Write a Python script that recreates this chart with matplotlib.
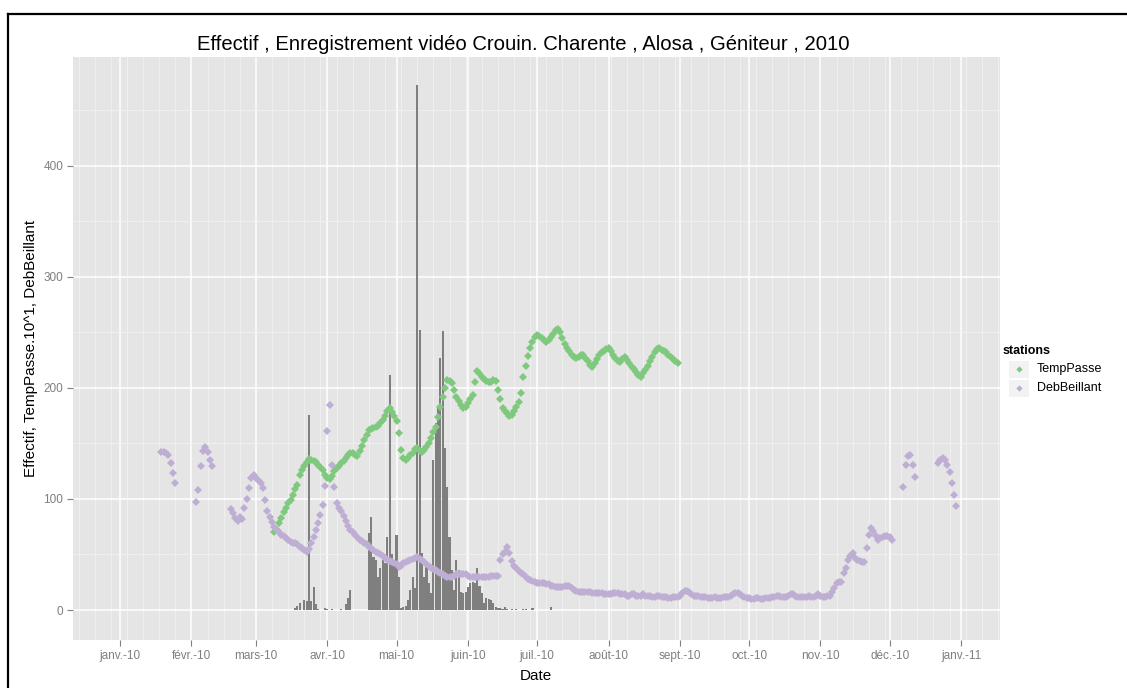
import pandas as pd
import matplotlib
matplotlib.use("Agg")
import matplotlib.pyplot as plt
import matplotlib.dates as mdates
from matplotlib.lines import Line2D
from matplotlib.patches import Rectangle

plt.rcParams['font.family'] = ['Liberation Sans', 'DejaVu Sans']

# ---- data ----
title = "Effectif , Enregistrement vidéo Crouin. Charente , Alosa , Géniteur , 2010"
x_title = "Date"
y_title = "Effectif, TempPasse.10^1, DebBeillant"
legend_title = "stations"
series_names = ["TempPasse", "DebBeillant"]

month_ticks = pd.date_range("2010-01-01", "2011-01-01", freq="MS")
month_labels = ["janv.-10", "févr.-10", "mars-10", "avr.-10", "mai-10", "juin-10",
                "juil.-10", "août-10", "sept.-10", "oct.-10", "nov.-10", "déc.-10",
                "janv.-11"]
y_ticks = [0, 100, 200, 300, 400]

# daily fish count (bars)
effectif_start = "2010-03-18"
effectif = [2, 4, 6, 0, 9, 8, 176, 8, 21, 5, 1, 0, 0, 2, 1, 0, 1, 0, 0, 0,
            1, 0, 5, 11, 18, 0, 0, 0, 0, 0, 0, 0, 69, 84, 48, 45, 30, 38, 45, 42,
            66, 212, 50, 45, 68, 30, 2, 3, 4, 9, 18, 30, 20, 473, 252, 51, 30, 42, 24, 15,
            135, 168, 182, 227, 251, 146, 111, 66, 36, 18, 45, 36, 16, 15, 16, 21, 24, 25, 24, 38,
            22, 15, 6, 11, 10, 9, 6, 3, 2, 2, 1, 3, 1, 0, 1, 0, 1, 0, 0, 1,
            1, 0, 0, 2, 0, 0, 0, 0, 0, 0, 0, 3]

# water temperature x10
temp_start = "2010-03-09"
temp_passe = [70, 72, 78, 83, 88, 92, 96, 99, 104, 109,
              113, 122, 126, 130, 133, 136, 135, 134, 133, 131,
              129, 126, 122, 119, 118, 121, 125, 128, 130, 132,
              134, 137, 140, 141, 141, 140, 139, 143, 148, 153,
              158, 162, 163, 164, 165, 166, 168, 171, 175, 179,
              182, 178, 175, 170, 159, 144, 137, 135, 137, 140,
              141, 145, 146, 143, 142, 144, 147, 150, 155, 160,
              165, 174, 183, 192, 200, 207, 206, 204, 198, 192,
              188, 185, 182, 183, 186, 190, 194, 205, 215, 213,
              210, 208, 206, 205, 205, 207, 206, 198, 190, 182,
              179, 177, 175, 176, 179, 183, 187, 195, 210, 220,
              229, 236, 241, 246, 248, 247, 245, 243, 241, 243,
              246, 249, 252, 253, 250, 245, 240, 236, 233, 230,
              228, 227, 228, 230, 230, 227, 224, 221, 219, 222,
              226, 230, 232, 233, 235, 236, 233, 230, 227, 224,
              223, 226, 228, 225, 222, 219, 217, 214, 212, 210,
              213, 216, 220, 224, 228, 232, 235, 236, 234, 233,
              232, 230, 228, 226, 224, 222]

# river flow, several pieces with gaps between them
deb_jan_start = "2010-01-19"
deb_jan = [142, 142, 141, 140, 132, 123, 114]
deb_feb_start = "2010-02-03"
deb_feb = [97, 108, 130, 143, 147, 142, 135, 130]
deb_main_start = "2010-02-18"
deb_main = [91, 87, 83, 80, 84, 82, 92, 100, 110, 119,
            122, 119, 117, 114, 110, 99, 89, 84, 79, 75,
            72, 70, 68, 67, 65, 63, 61, 60, 60, 59,
            57, 56, 54, 52, 55, 60, 66, 72, 78, 86,
            95, 112, 161, 185, 131, 111, 96, 92, 89, 85,
            80, 76, 72, 70, 68, 66, 63, 62, 60, 59,
            57, 56, 54, 52, 51, 50, 49, 47, 45, 44,
            43, 42, 41, 39, 40, 42, 43, 44, 45, 46,
            47, 48, 46, 45, 43, 41, 40, 38, 37, 36,
            34, 33, 32, 31, 30, 30, 30, 31, 32, 32,
            32, 32, 32, 31, 30, 30, 30, 30, 30, 30,
            30, 30, 30, 31, 31, 31, 31,
            45, 50, 52, 57, 51, 44, 40, 38, 35, 33,
            32, 30, 28, 27, 26, 25, 24, 24, 24, 24,
            23, 23, 22, 22, 21, 21, 21, 21, 22, 22,
            22, 20, 18, 17, 16, 16, 16, 16, 16, 16,
            15, 15, 15, 15, 15, 14, 14, 14, 14, 15,
            15, 15, 14, 14, 14, 13, 13, 14, 14, 13,
            13, 13, 14, 13, 13, 13, 12, 12, 13, 13,
            12, 12, 12, 11, 11, 12, 12, 12, 13, 15,
            17, 17, 16, 14, 13, 13, 13, 12, 12, 12,
            11, 11, 11, 12, 11, 11, 11, 12, 12, 12,
            13, 14, 15, 15, 14, 13, 12, 11, 11, 10,
            10, 11, 11, 10, 10, 11, 11, 11, 12, 12,
            13, 13, 12, 12, 12, 13, 14, 14, 13, 12,
            12, 12, 12, 12, 13, 12, 12, 13, 14, 13,
            12, 12, 13, 13, 16, 20, 24, 25, 25, 33,
            38, 45, 49, 51, 47, 45, 44, 43, 43, 56,
            68, 74, 71, 67, 63, 65, 66, 67, 67, 66,
            63]
deb_dec1_start = "2010-12-07"
deb_dec1 = [111, 131, 139, 140, 131, 120]
deb_dec2_start = "2010-12-22"
deb_dec2 = [132, 135, 137, 135, 131, 124, 114, 104, 94]

green = "#7FC97F"
purple = "#BEAED4"
bar_col = "#7F7F7F"

# ---- figure ----
W, H = 1127, 688
def fx(px):
    return px / W
def fy(py):
    return 1 - py / H

fig = plt.figure(figsize=(W / 100, H / 100), dpi=100)
ax = fig.add_axes([fx(73), fy(640), (1000 - 73) / W, (640 - 57) / H])
ax.set_facecolor("#E5E5E5")
for s in ax.spines.values():
    s.set_visible(False)

jan1 = pd.Timestamp("2010-01-01")
ax.set_xlim(jan1 - pd.Timedelta(days=20.4), jan1 + pd.Timedelta(days=381.9))
ax.set_ylim(-27, 498)

ax.set_xticks(month_ticks)
ax.set_xticklabels(month_labels)
ax.xaxis.set_minor_locator(mdates.WeekdayLocator(byweekday=mdates.MO))
ax.set_yticks(y_ticks)
ax.set_yticklabels([str(v) for v in y_ticks])
ax.set_yticks([50, 150, 250, 350, 450], minor=True)
ax.grid(which="minor", color="#F2F2F2", linewidth=0.6)
ax.grid(which="major", color="white", linewidth=1.1)
ax.set_axisbelow(True)
ax.tick_params(which="minor", length=0)
ax.tick_params(which="major", length=4, width=0.8, color="#7F7F7F",
               labelcolor="#7F7F7F", labelsize=8.5, pad=3)

# bars
d = pd.date_range(effectif_start, periods=len(effectif), freq="D")
ax.bar(d, effectif, width=0.9, color=bar_col, zorder=2)

# points
mk = dict(marker="D", markersize=3.9, linestyle="none", markeredgewidth=0, zorder=3)
ax.plot(pd.date_range(temp_start, periods=len(temp_passe), freq="D"), temp_passe, color=green, **mk)
for st, vals in [(deb_jan_start, deb_jan), (deb_feb_start, deb_feb), (deb_main_start, deb_main),
                 (deb_dec1_start, deb_dec1), (deb_dec2_start, deb_dec2)]:
    ax.plot(pd.date_range(st, periods=len(vals), freq="D"), vals, color=purple, **mk)

# titles
fig.text(fx(523), fy(45), title, ha="center", va="center", fontsize=14.6)
fig.text(fx(536), fy(676), x_title, ha="center", va="center", fontsize=11)
fig.text(fx(31), fy(348), y_title, ha="center", va="center", fontsize=11, rotation=90)

# legend drawn by hand, ggplot style
fig.text(fx(1003), fy(351), legend_title, ha="left", va="center", fontsize=9, fontweight="bold")
for i, (name, col) in enumerate(zip(series_names, [green, purple])):
    yc = 369 + i * 19
    fig.add_artist(Rectangle((fx(1008), fy(yc + 9)), 21 / W, 18 / H, transform=fig.transFigure,
                             facecolor="#F2F2F2", edgecolor="white", linewidth=0.8))
    fig.add_artist(Line2D([fx(1018.5)], [fy(yc)], marker="D", markersize=3.2, color=col,
                          markeredgewidth=0, transform=fig.transFigure))
    fig.text(fx(1037), fy(yc), name, ha="left", va="center", fontsize=9)

# black frame of the screenshot
fig.add_artist(Line2D([fx(8), fx(8)], [fy(14), 0], color="black", linewidth=1.6,
                      transform=fig.transFigure))
fig.add_artist(Line2D([fx(8), 1], [fy(14), fy(14)], color="black", linewidth=1.6,
                      transform=fig.transFigure))

fig.savefig("out.png", dpi=100)
